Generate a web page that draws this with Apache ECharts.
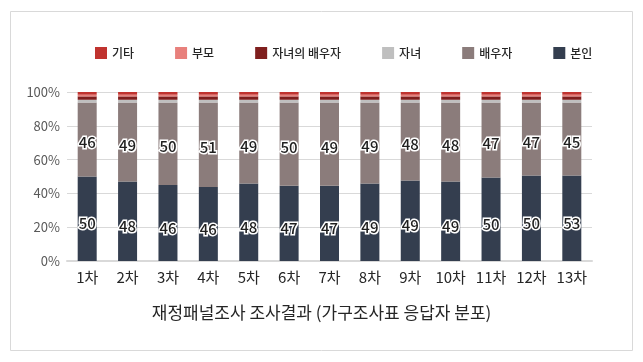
<!DOCTYPE html>
<html>
<head>
<meta charset="utf-8">
<script src="https://cdn.jsdelivr.net/npm/echarts@6/dist/echarts.min.js"></script>
<style>html,body{margin:0;padding:0;background:#fff;}#c{width:643px;height:362px;}</style>
</head>
<body>
<div id="c"></div>
<script>
var categories = ['1차','2차','3차','4차','5차','6차','7차','8차','9차','10차','11차','12차','13차'];
// bar heights (% of bar)
var self_pct    = [50.0,47.0,45.0,43.8,45.8,44.5,44.5,45.8,47.6,47.0,49.4,50.6,50.6];
var spouse_pct  = [43.8,46.8,48.8,50.0,48.0,49.3,49.3,48.0,46.2,46.8,44.4,43.2,43.2];
var child_pct   = [1.6,1.6,1.6,1.6,1.6,1.6,1.6,1.6,1.6,1.6,1.6,1.6,1.6];
var childSp_pct = [2.0,2.0,2.0,2.0,2.0,2.0,2.0,2.0,2.0,2.0,2.0,2.0,2.0];
var parent_pct  = [1.0,1.0,1.0,1.0,1.0,1.0,1.0,1.0,1.0,1.0,1.0,1.0,1.0];
var other_pct   = [1.6,1.6,1.6,1.6,1.6,1.6,1.6,1.6,1.6,1.6,1.6,1.6,1.6];
// data labels shown on the chart
var self_labels   = [50,48,46,46,48,47,47,49,49,49,50,50,53];
var spouse_labels = [46,49,50,51,49,50,49,49,48,48,47,47,45];
var yTicks = [0,20,40,60,80,100];

var FONT = '"Noto Sans CJK KR","Noto Sans",sans-serif';
var chart = echarts.init(document.getElementById('c'));
function lbl(arr, off){
  return {show:true, position:'inside', offset:[0,off], fontFamily:FONT, fontSize:15, fontWeight:500, color:'#1f1f1f',
    textBorderColor:'#fff', textBorderWidth:3,
    formatter:function(p){return arr[p.dataIndex];}};
}
var option = {
  backgroundColor:'#fff',
  animation:false,
  graphic:[{type:'rect', shape:{x:10.5,y:11.5,width:622,height:339}, style:{fill:'none', stroke:'#d9d9d9', lineWidth:1}}],
  title:{text:'재정패널조사 조사결과 (가구조사표 응답자 분포)', left:'center', top:299,
    textStyle:{fontFamily:FONT, fontSize:17, fontWeight:'normal', color:'#262626'}},
  legend:{top:47, left:95, padding:0, itemWidth:12, itemHeight:12, itemGap:41, icon:'rect',
    textStyle:{fontFamily:FONT, fontSize:12, fontWeight:500, color:'#262626'},
    data:['기타','부모','자녀의 배우자','자녀','배우자','본인']},
  grid:{left:67, right:51, top:92, bottom:101},
  xAxis:{type:'category', data:categories,
    axisLine:{lineStyle:{color:'#d9d9d9', width:2}}, axisTick:{show:false},
    axisLabel:{fontFamily:FONT, fontSize:15, color:'#262626', margin:9}},
  yAxis:{type:'value', min:0, max:100, interval:20,
    axisLabel:{fontFamily:FONT, fontSize:13, color:'#595959', margin:7, formatter:function(v){return v+'%';}},
    splitLine:{lineStyle:{color:'#d9d9d9'}}, axisLine:{show:false}, axisTick:{show:false}},
  series:[
    {name:'본인', type:'bar', stack:'a', barWidth:19, data:self_pct, itemStyle:{color:'#343e4f'}, label:lbl(self_labels,5)},
    {name:'배우자', type:'bar', stack:'a', data:spouse_pct, itemStyle:{color:'#8b7c7b'}, label:lbl(spouse_labels,3)},
    {name:'자녀', type:'bar', stack:'a', data:child_pct, itemStyle:{color:'#bfbfbf'}},
    {name:'자녀의 배우자', type:'bar', stack:'a', data:childSp_pct, itemStyle:{color:'#7f1f1e'}},
    {name:'부모', type:'bar', stack:'a', data:parent_pct, itemStyle:{color:'#e8807c'}},
    {name:'기타', type:'bar', stack:'a', data:other_pct, itemStyle:{color:'#c0332f'}}
  ]
};
chart.setOption(option);
</script>
</body>
</html>
